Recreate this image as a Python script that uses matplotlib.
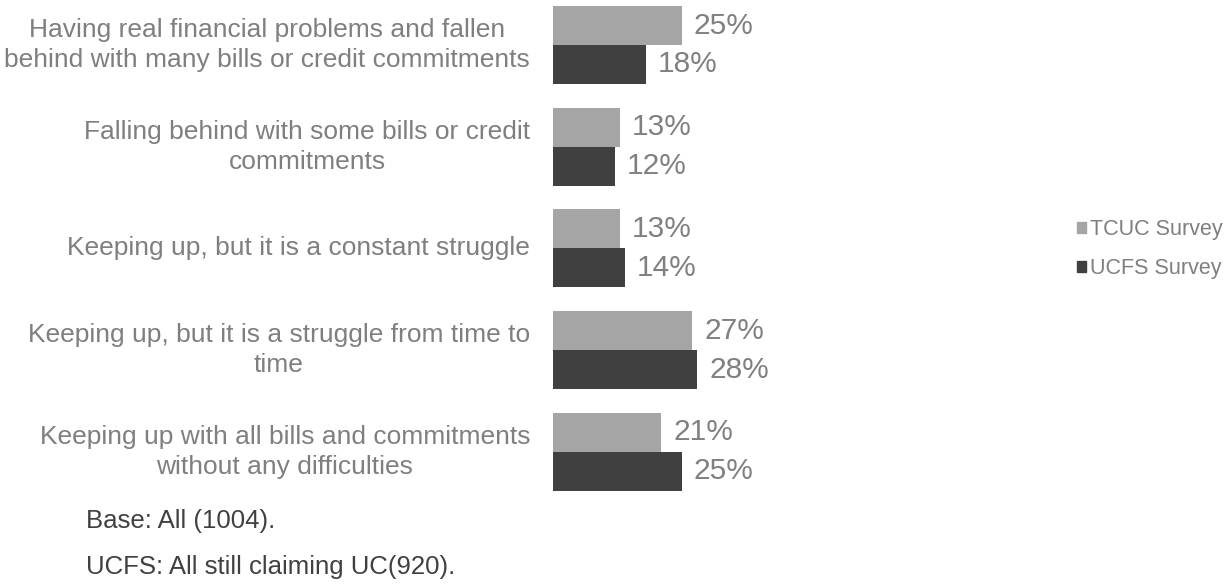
import matplotlib
matplotlib.use("Agg")
import matplotlib.pyplot as plt
from matplotlib.patches import Patch

plt.rcParams['font.family'] = ['Liberation Sans', 'DejaVu Sans']

categories = [
    "Having real financial problems and fallen\nbehind with many bills or credit commitments",
    "Falling behind with some bills or credit\ncommitments",
    "Keeping up, but it is a constant struggle",
    "Keeping up, but it is a struggle from time to\ntime",
    "Keeping up with all bills and commitments\nwithout any difficulties",
]
series_names = ["TCUC Survey", "UCFS Survey"]
tcuc = [25, 13, 13, 27, 21]
ucfs = [18, 12, 14, 28, 25]
footnotes = ["Base: All (1004).", "UCFS: All still claiming UC(920)."]

light = "#a5a5a5"
dark = "#404040"

W, H = 1225, 584
fig = plt.figure(figsize=(W / 100, H / 100), dpi=100)

# axes placed in pixel terms
ax_left, ax_right = 553, 553 + 5.16 * 100
ax_top, ax_bot = 0, 510
ax = fig.add_axes([ax_left / W, 1 - ax_bot / H, (ax_right - ax_left) / W, (ax_bot - ax_top) / H])

gap = 101.7
c0 = 45
ax.set_xlim(0, 100)
ax.set_ylim((ax_bot - c0) / gap, (ax_top - c0) / gap)

bh = 39 / gap
ys = list(range(len(categories)))
b1 = ax.barh([y - bh / 2 for y in ys], tcuc, height=bh, color=light, align='center')
b2 = ax.barh([y + bh / 2 for y in ys], ucfs, height=bh, color=dark, align='center')

for bars, vals in ((b1, tcuc), (b2, ucfs)):
    for rect, v in zip(bars, vals):
        ax.annotate(f"{v}%", (v, rect.get_y() + rect.get_height() / 2),
                    xytext=(8.5, 0), textcoords='offset points',
                    ha='left', va='center', fontsize=21.5, color='#808080')

for y, lab in zip(ys, categories):
    ax.annotate(lab, (0, y), xytext=(-16.5, 0), textcoords='offset points',
                ha='right', va='center', multialignment='center',
                fontsize=19, color='#7f7f7f', linespacing=1.3)

ax.axis('off')

handles = [Patch(color=light), Patch(color=dark)]
fig.legend(handles, series_names, loc='center left', bbox_to_anchor=(1077 / W, 1 - 249 / H),
           frameon=False, fontsize=15.5, labelcolor='#7f7f7f', handlelength=0.4,
           handleheight=0.4, handletextpad=0.2, labelspacing=0.85, borderaxespad=0,
           borderpad=0)

fig.text(86 / W, 1 - 521 / H, footnotes[0], fontsize=18.5, color='#404040', va='center', ha='left')
fig.text(86 / W, 1 - 567 / H, footnotes[1], fontsize=18.5, color='#404040', va='center', ha='left')

fig.savefig("out.png", dpi=100)
